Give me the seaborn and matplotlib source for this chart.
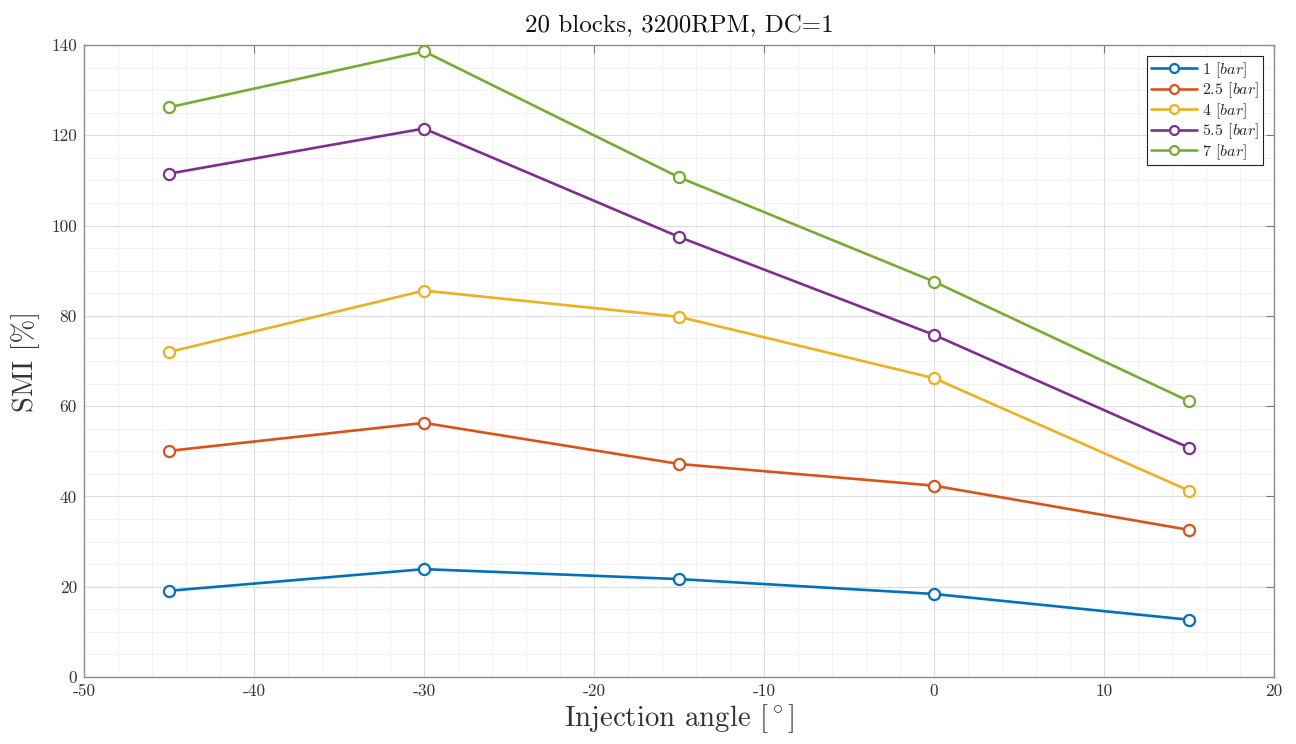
import numpy as np
import pandas as pd
import matplotlib
matplotlib.use("Agg")
import matplotlib.pyplot as plt
import seaborn as sns
from matplotlib.ticker import MultipleLocator

angles = [-45, -30, -15, 0, 15]
pressures = ["1", "2.5", "4", "5.5", "7"]
smi_1 = [19.1, 23.9, 21.7, 18.4, 12.7]
smi_2_5 = [50.1, 56.3, 47.2, 42.4, 32.6]
smi_4 = [72.0, 85.6, 79.8, 66.2, 41.3]
smi_5_5 = [111.5, 121.5, 97.5, 75.8, 50.8]
smi_7 = [126.2, 138.6, 110.7, 87.6, 61.1]
colors = ["#0072BD", "#D95319", "#EDB120", "#7E2F8E", "#77AC30"]

series = [smi_1, smi_2_5, smi_4, smi_5_5, smi_7]
rows = []
for p, vals in zip(pressures, series):
    for a, v in zip(angles, vals):
        rows.append({"angle": a, "smi": v, "pressure": p})
df = pd.DataFrame(rows)

sns.set_theme(style="white")
plt.rcParams["font.family"] = ["cmr10", "DejaVu Serif"]
plt.rcParams["mathtext.fontset"] = "cm"
plt.rcParams["axes.unicode_minus"] = False
plt.rcParams["axes.formatter.use_mathtext"] = False

fig = plt.figure(figsize=(12.96, 7.44), dpi=100)
ax = fig.add_axes([0.0648, 0.090, 0.9182, 0.8495])

for p, c in zip(pressures, colors):
    sub = df[df["pressure"] == p]
    sns.lineplot(data=sub, x="angle", y="smi", ax=ax, color=c, linewidth=1.9,
                 marker="o", markersize=8, markerfacecolor="white",
                 markeredgecolor=c, markeredgewidth=1.6,
                 label=p + r" $[bar]$", zorder=3)

ax.set_xlim(-50, 20)
ax.set_ylim(0, 140)
ax.xaxis.set_major_locator(MultipleLocator(10))
ax.xaxis.set_minor_locator(MultipleLocator(2))
ax.yaxis.set_major_locator(MultipleLocator(20))
ax.yaxis.set_minor_locator(MultipleLocator(5))
ax.grid(which="major", color="#dcdcdc", linewidth=0.8)
ax.grid(which="minor", color="#f0f0f0", linewidth=0.6)
ax.set_axisbelow(True)
ax.tick_params(which="major", direction="in", length=6, width=0.8, color="#777777",
               top=True, right=True, labelsize=12.5, labelcolor="#333333", pad=5)
ax.tick_params(which="minor", length=0)
for s in ax.spines.values():
    s.set_color("#8c8c8c")
    s.set_linewidth(1.0)

ax.set_title("20 blocks, 3200RPM, DC=1", fontsize=18, pad=9, color="#111111")
ax.set_xlabel(r"Injection angle $[^\circ]$", fontsize=20.8, color="#333333", labelpad=2)
ax.set_ylabel("SMI [%]", fontsize=20.5, color="#333333", labelpad=8)

leg = ax.legend(loc="upper right", fontsize=11.5, frameon=True, fancybox=False,
                edgecolor="#222222", framealpha=1, borderaxespad=0.7,
                handlelength=2.9, labelspacing=0.05, borderpad=0.25, handletextpad=0.3,
                markerscale=0.8)
leg.get_frame().set_linewidth(0.8)

fig.savefig("out.png", dpi=100)
